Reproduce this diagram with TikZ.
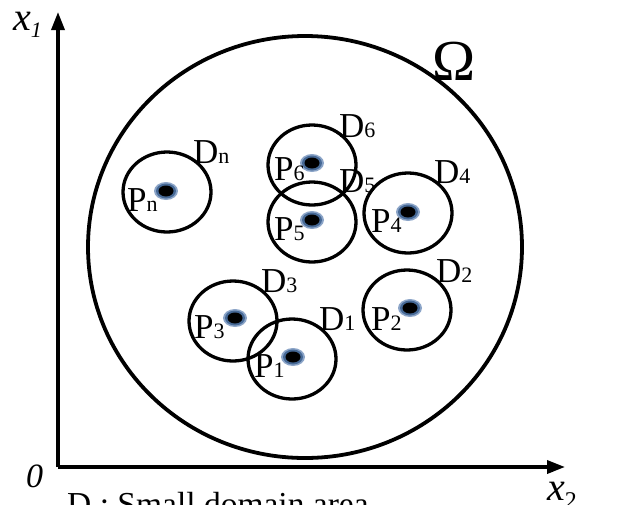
\documentclass[tikz,border=0pt]{standalone}
\usepackage{fontspec}
\setmainfont{Liberation Serif}
\usetikzlibrary{shapes.geometric,arrows.meta}
\newcommand\mysub[1]{{\fontsize{22}{22}\selectfont #1}}
\begin{document}
\begin{tikzpicture}[x=1pt,y=-1pt,
  dom/.style={draw, line width=3.3pt, ellipse, inner sep=0, minimum width=88pt, minimum height=80pt},
  lbl/.style={inner sep=0, anchor=base west, font=\fontsize{35}{35}\selectfont},
  axis/.style={line width=3.5pt, -{Triangle[width=13pt,length=18pt]}}]
\useasboundingbox (0,0) rectangle (626,504);
% axes
\coordinate (O) at (58,467);
\coordinate (X1) at (58,12);
\coordinate (X2) at (565,467);
\draw[axis] (O) -- (X1);
\draw[axis] (O) -- (X2);
\node[inner sep=0, anchor=base west] (lx1) at (13,30) {\fontsize{40}{40}\selectfont\itshape x\raisebox{-7pt}{\fontsize{22}{22}\selectfont 1}};
\node[inner sep=0, anchor=base west] (l0) at (26,487) {\fontsize{34}{34}\selectfont\itshape 0};
\node[inner sep=0, anchor=base west] (lx2) at (547,500) {\fontsize{40}{40}\selectfont\itshape x\raisebox{-8pt}{\fontsize{24}{24}\selectfont\upshape 2}};
% big domain
\node[draw, line width=3.8pt, ellipse, inner sep=0, minimum width=434pt, minimum height=422pt] (omega) at (305,247) {};
\node[inner sep=0, anchor=base west] (lomega) at (432,80) {\fontsize{58}{58}\selectfont Ω};
% small domains
\node[dom] (Dn) at (167,192) {};
\node[dom] (D6) at (312,165) {};
\node[dom] (D5) at (312,222) {};
\node[dom] (D4) at (408,213) {};
\node[dom] (D3) at (233,321) {};
\node[dom] (D1) at (292,359) {};
\node[dom] (D2) at (407,310) {};
% points
\foreach \n/\p in {Pn/{166,191}, P6/{312,163}, P5/{312,220}, P4/{408,212}, P3/{235,318}, P1/{293,357}, P2/{410,308}} {
  \fill[color={rgb,255:red,140;green,165;blue,200}] (\p) ellipse [x radius=12pt, y radius=9pt];
  \fill[color={rgb,255:red,70;green,105;blue,150}] (\p) ellipse [x radius=10pt, y radius=7.5pt];
  \fill[black] (\p) ellipse [x radius=7.5pt, y radius=5.5pt];
  \coordinate (\n) at (\p);
}
% labels
\node[lbl] (lDn) at (193,163) {D\mysub{n}};
\node[lbl] (lPn) at (127,211) {P\mysub{n}};
\node[lbl] (lD6) at (339,137) {D\mysub{6}};
\node[lbl] (lP6) at (274,180) {P\mysub{6}};
\node[lbl] (lD5) at (339,192) {D\mysub{5}};
\node[lbl] (lP5) at (274,240) {P\mysub{5}};
\node[lbl] (lD4) at (434,183) {D\mysub{4}};
\node[lbl] (lP4) at (371,232) {P\mysub{4}};
\node[lbl] (lD3) at (261,292) {D\mysub{3}};
\node[lbl] (lP3) at (194,338) {P\mysub{3}};
\node[lbl] (lD1) at (319,330) {D\mysub{1}};
\node[lbl] (lP1) at (254,377) {P\mysub{1}};
\node[lbl] (lD2) at (436,282) {D\mysub{2}};
\node[lbl] (lP2) at (371,330) {P\mysub{2}};
% caption (cut off at bottom)
\node[inner sep=0, anchor=base west] (cap) at (67,515) {\fontsize{33.5}{33.5}\selectfont D : Small domain area};
\end{tikzpicture}
\end{document}
